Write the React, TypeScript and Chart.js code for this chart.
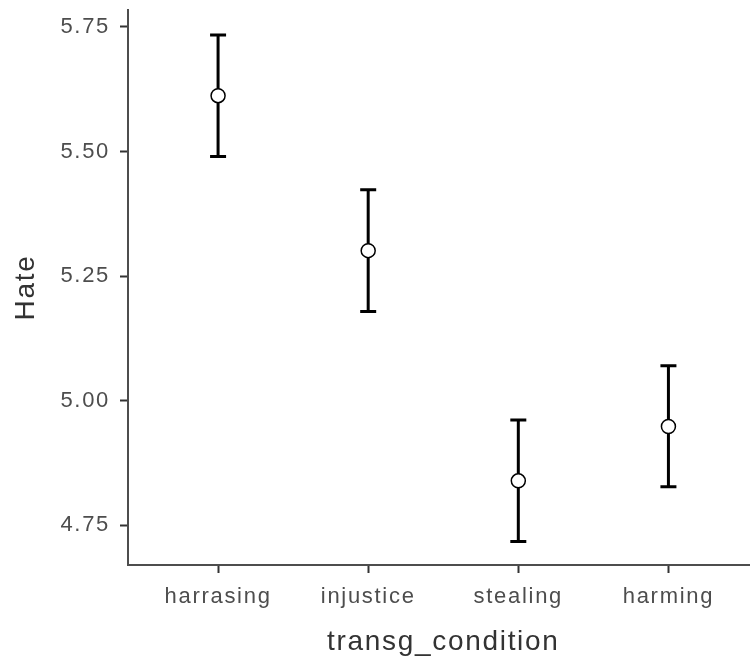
import React, { useEffect, useRef } from "react";
import { Chart, registerables } from "chart.js";

Chart.register(...registerables);

const categories = ["harrasing", "injustice", "stealing", "harming"];
const means = [5.612, 5.301, 4.839, 4.948];
const lowers = [5.490, 5.179, 4.717, 4.827];
const uppers = [5.734, 5.423, 4.961, 5.070];
const yTicks = [4.75, 5.0, 5.25, 5.5, 5.75];

const FONT = "'Liberation Sans', Arial, sans-serif";

const spacingPlugin = {
  id: "spacing",
  beforeDraw(chart: any) {
    chart.ctx.letterSpacing = "1.7px";
  },
};

const errorBarPlugin = {
  id: "errorBars",
  beforeDatasetsDraw(chart: any) {
    const { ctx } = chart;
    const xs = chart.scales.x;
    const ys = chart.scales.y;
    ctx.save();
    ctx.strokeStyle = "#000000";
    ctx.lineWidth = 3;
    ctx.lineCap = "butt";
    categories.forEach((_, i) => {
      const x = xs.getPixelForValue(i + 1);
      const yl = ys.getPixelForValue(lowers[i]);
      const yu = ys.getPixelForValue(uppers[i]);
      const hw = 8;
      ctx.beginPath();
      ctx.moveTo(x, yl);
      ctx.lineTo(x, yu);
      ctx.moveTo(x - hw, yu);
      ctx.lineTo(x + hw, yu);
      ctx.moveTo(x - hw, yl);
      ctx.lineTo(x + hw, yl);
      ctx.stroke();
    });
    ctx.restore();
  },
};

const zeroPad = (scale: any) => {
  scale.paddingTop = 0;
  scale.paddingBottom = 0;
  scale.paddingLeft = 0;
  scale.paddingRight = 0;
};

export default function App() {
  const ref = useRef<HTMLCanvasElement | null>(null);
  useEffect(() => {
    if (!ref.current) return;
    const chart = new Chart(ref.current, {
      type: "scatter",
      data: {
        datasets: [
          {
            data: means.map((m, i) => ({ x: i + 1, y: m })),
            pointRadius: 7,
            pointHoverRadius: 7,
            pointBackgroundColor: "#ffffff",
            pointBorderColor: "#000000",
            pointBorderWidth: 1.5,
          },
        ],
      },
      options: {
        responsive: false,
        animation: false,
        events: [],
        layout: { padding: { top: 10, left: 0, right: 0, bottom: 0 } },
        plugins: { legend: { display: false }, tooltip: { enabled: false } },
        scales: {
          x: {
            type: "linear",
            min: 0.4,
            max: 4.6,
            afterBuildTicks: (scale: any) => {
              scale.ticks = categories.map((_, i) => ({ value: i + 1 }));
            },
            afterFit: (scale: any) => {
              scale.height = 96;
              zeroPad(scale);
            },
            ticks: {
              callback: (v: any) => categories[Number(v) - 1] ?? "",
              color: "#4d4d4d",
              font: { family: FONT, size: 22 },
              padding: 11,
              maxRotation: 0,
              autoSkip: false,
            },
            grid: {
              drawOnChartArea: false,
              drawTicks: true,
              tickLength: 8,
              tickWidth: 2,
              tickColor: "#333333",
            },
            border: { display: true, color: "#4d4d4d", width: 2 },
            title: {
              display: true,
              text: "transg_condition",
              color: "#333333",
              font: { family: FONT, size: 28 },
              padding: { top: 0, bottom: 2 },
            },
          },
          y: {
            type: "linear",
            min: 4.670,
            max: 5.784,
            afterBuildTicks: (scale: any) => {
              scale.ticks = yTicks.map((v) => ({ value: v }));
            },
            afterFit: (scale: any) => {
              scale.width = 128;
              zeroPad(scale);
            },
            ticks: {
              callback: (v: any) => Number(v).toFixed(2),
              color: "#4d4d4d",
              font: { family: FONT, size: 22 },
              padding: 10,
            },
            grid: {
              drawOnChartArea: false,
              drawTicks: true,
              tickLength: 8,
              tickWidth: 2,
              tickColor: "#333333",
            },
            border: { display: true, color: "#4d4d4d", width: 2 },
            title: {
              display: true,
              text: "Hate",
              color: "#333333",
              font: { family: FONT, size: 28 },
              padding: { top: 9, bottom: 0 },
            },
          },
        },
      },
      plugins: [spacingPlugin, errorBarPlugin],
    });
    return () => chart.destroy();
  }, []);
  return (
    <div style={{ position: "fixed", left: 0, top: 0, width: 750, height: 661, overflow: "hidden", background: "#ffffff" }}>
      <canvas ref={ref} width={767} height={661} style={{ display: "block" }} />
    </div>
  );
}
